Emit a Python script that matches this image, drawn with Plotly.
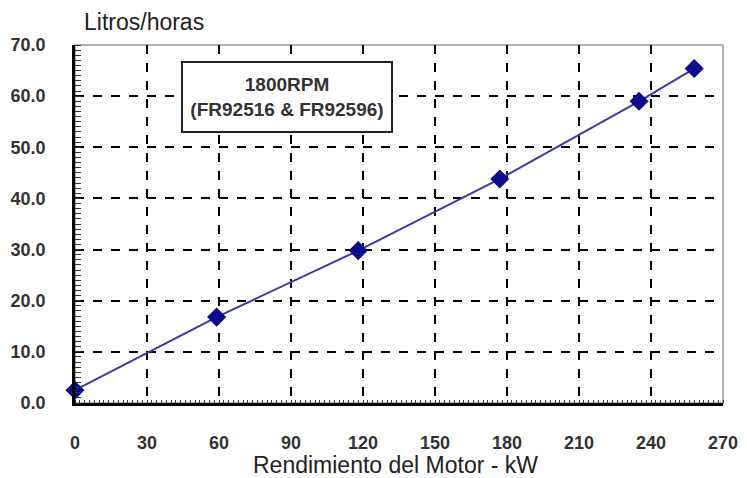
import plotly.graph_objects as go

kw = [0, 59, 118, 177, 235, 258]
litros = [2.5, 16.8, 29.8, 43.8, 59.0, 65.4]
x_ticks = [0, 30, 60, 90, 120, 150, 180, 210, 240, 270]
y_ticks = [0, 10, 20, 30, 40, 50, 60, 70]
y_labels = ["%.1f" % v for v in y_ticks]

font_fam = "Liberation Sans, Arial, sans-serif"

fig = go.Figure()
fig.add_trace(go.Scatter(
    x=kw, y=litros, mode="lines+markers",
    line=dict(color="#3a3aa8", width=2),
    marker=dict(symbol="diamond", size=12, color="#0c0c8c",
                line=dict(color="#0c0c8c", width=2.5)),
    showlegend=False, cliponaxis=False,
))

fig.update_layout(
    width=747, height=478,
    margin=dict(l=75, r=24, t=45, b=75),
    paper_bgcolor="white", plot_bgcolor="white",
    font=dict(family=font_fam, color="#222"),
    xaxis=dict(
        range=[0, 270], tickvals=x_ticks, ticktext=[str(v) for v in x_ticks],
        showgrid=True, gridcolor="black", griddash="dash", gridwidth=1.5,
        showline=True, linecolor="black", linewidth=2.5,
        ticks="", ticklabelstandoff=22, automargin=False,
        tickfont=dict(size=18, color="#333", weight="bold"),
        minor=dict(dtick=2, ticks="inside", ticklen=3, tickcolor="#333", showgrid=False),
        zeroline=False,
    ),
    yaxis=dict(
        range=[0, 70], tickvals=y_ticks, ticktext=y_labels,
        showgrid=True, gridcolor="black", griddash="dash", gridwidth=1.5,
        showline=True, linecolor="black", linewidth=2.5,
        ticks="", ticklabelstandoff=23, automargin=False,
        tickfont=dict(size=18, color="#333", weight="bold"),
        minor=dict(dtick=1, ticks="inside", ticklen=6, tickcolor="#333", showgrid=False),
        zeroline=False,
    ),
    shapes=[dict(type="rect", xref="paper", yref="paper", x0=0, x1=1, y0=0, y1=1,
                 line=dict(color="#999", width=1.5), layer="below")],
    annotations=[
        dict(text="Litros/horas", xref="paper", yref="paper", x=0, y=1.0,
             xanchor="left", yanchor="middle", xshift=7, yshift=23, showarrow=False,
             font=dict(size=23, color="#222")),
        dict(text="Rendimiento del Motor - kW", xref="paper", yref="paper", x=0.494, y=0,
             xanchor="center", yanchor="middle", yshift=-62, showarrow=False,
             font=dict(size=23, color="#222")),
        dict(text="1800RPM<br>(FR92516 & FR92596)", x=88.3, y=59.8,
             xref="x", yref="y", showarrow=False, align="center",
             width=206, height=66, bgcolor="white", bordercolor="#222",
             borderwidth=2, borderpad=1,
             font=dict(size=19, color="#333", weight="bold")),
    ],
)

fig.write_html("out.html", config={"displayModeBar": False},
               post_script="document.body.style.margin='0';document.body.style.overflow='hidden';")
